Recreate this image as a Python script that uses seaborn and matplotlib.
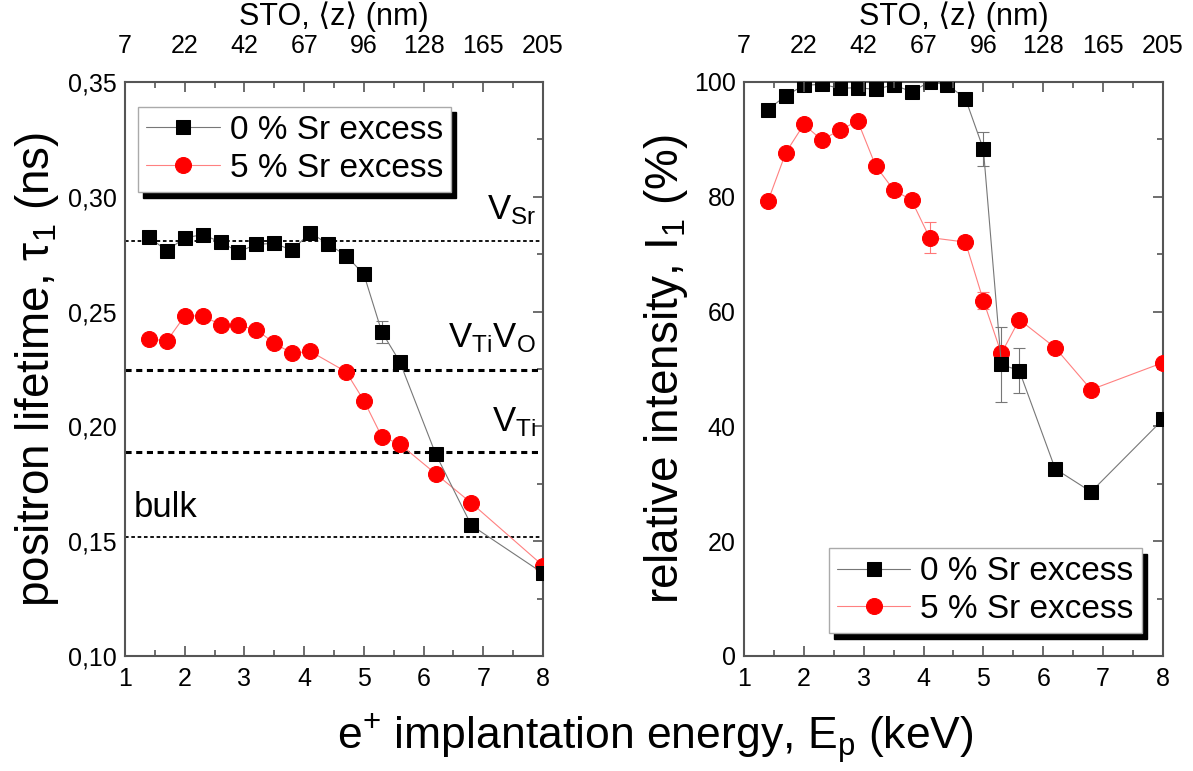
import matplotlib
matplotlib.use("Agg")
import matplotlib.pyplot as plt
from matplotlib.ticker import MultipleLocator, FuncFormatter
import pandas as pd
import seaborn as sns

# implantation energy (keV)
energy_0 = [1.4, 1.7, 2.0, 2.3, 2.6, 2.9, 3.2, 3.5, 3.8, 4.1, 4.4, 4.7, 5.0, 5.3, 5.6, 6.2, 6.8, 8.0]
energy_5 = [1.4, 1.7, 2.0, 2.3, 2.6, 2.9, 3.2, 3.5, 3.8, 4.1, 4.7, 5.0, 5.3, 5.6, 6.2, 6.8, 8.0]

# positron lifetime tau_1 (ns)
tau_0 = [0.2824, 0.2765, 0.2821, 0.2835, 0.2803, 0.2760, 0.2793, 0.2797, 0.2767, 0.2844,
         0.2794, 0.2744, 0.2662, 0.2411, 0.2282, 0.1881, 0.1569, 0.1360]
tau_0_err = [0.001, 0.001, 0.001, 0.001, 0.001, 0.001, 0.001, 0.001, 0.001, 0.001,
             0.001, 0.001, 0.001, 0.0048, 0.001, 0.001, 0.001, 0.001]
tau_5 = [0.2381, 0.2372, 0.2481, 0.2481, 0.2443, 0.2440, 0.2421, 0.2362, 0.2318, 0.2327,
         0.2238, 0.2112, 0.1955, 0.1923, 0.1794, 0.1666, 0.1393]
tau_5_err = [0.0008] * 17

# relative intensity I_1 (%)
int_0 = [95.2, 97.6, 99.4, 99.6, 98.9, 99.0, 98.7, 99.5, 98.3, 100.0,
         99.5, 97.1, 88.3, 50.8, 49.7, 32.6, 28.6, 41.2]
int_0_err = [0.5, 0.5, 0.5, 0.5, 0.5, 0.5, 0.5, 0.5, 0.5, 0.5,
             0.5, 0.5, 2.9, 6.5, 3.9, 0.7, 0.5, 0.5]
int_5 = [79.2, 87.7, 92.6, 89.9, 91.6, 93.2, 85.4, 81.2, 79.4, 72.9,
         72.1, 61.9, 52.7, 58.6, 53.7, 46.4, 51.1]
int_5_err = [0.5, 0.5, 0.5, 0.5, 0.5, 0.5, 0.5, 1.0, 1.0, 2.7,
             1.0, 1.5, 0.8, 0.8, 0.5, 0.5, 0.5]

# reference lifetimes (ns)
ref_names = ["V$_{\\mathrm{Sr}}$", "V$_{\\mathrm{Ti}}$V$_{\\mathrm{O}}$", "V$_{\\mathrm{Ti}}$", "bulk"]
ref_tau = [0.2807, 0.2247, 0.1887, 0.1518]

# top axis: mean depth in STO (nm)
depth_labels = ["7", "22", "42", "67", "96", "128", "165", "205"]
energy_ticks = [1, 2, 3, 4, 5, 6, 7, 8]

labels = ["0 % Sr excess", "5 % Sr excess"]

df0 = pd.DataFrame({"E": energy_0, "tau": tau_0, "I": int_0})
df5 = pd.DataFrame({"E": energy_5, "tau": tau_5, "I": int_5})

sns.set_theme(style="white")
plt.rcParams["font.family"] = ["Liberation Sans", "DejaVu Sans"]
plt.rcParams["mathtext.fontset"] = "custom"
plt.rcParams["mathtext.rm"] = "Liberation Sans"
plt.rcParams["mathtext.it"] = "Liberation Sans"
plt.rcParams["mathtext.bf"] = "Liberation Sans:bold"
plt.rcParams["text.color"] = "black"
plt.rcParams["axes.labelcolor"] = "black"

fig = plt.figure(figsize=(11.93, 7.71), dpi=100)
ax1 = fig.add_axes([0.1048, 0.1492, 0.3504, 0.7445])
ax2 = fig.add_axes([0.6236, 0.1492, 0.3512, 0.7445])

spine_col = "#555555"
black_style = dict(color="black", marker="s", markersize=10, linewidth=0.8,
                   markeredgecolor="black")
red_style = dict(color="red", marker="o", markersize=11.5, linewidth=0.8,
                 markeredgecolor="red")


def draw_panel(ax, ycol, err0, err5):
    ax.errorbar(df0["E"], df0[ycol], yerr=err0, fmt="none", ecolor="#777777",
                elinewidth=0.8, capsize=4, capthick=0.8, zorder=2)
    ax.errorbar(df5["E"], df5[ycol], yerr=err5, fmt="none", ecolor="#ff7777",
                elinewidth=0.8, capsize=4, capthick=0.8, zorder=2)
    sns.lineplot(data=df0, x="E", y=ycol, ax=ax, sort=False, estimator=None,
                 label=labels[0], zorder=4, **black_style)
    sns.lineplot(data=df5, x="E", y=ycol, ax=ax, sort=False, estimator=None,
                 label=labels[1], zorder=3, **red_style)
    # line colours lighter than markers
    lines = ax.get_lines()
    lines[-2].set_color("#777777")
    lines[-2].set_markerfacecolor("black")
    lines[-2].set_markeredgecolor("black")
    lines[-1].set_color("#ff8080")
    lines[-1].set_markerfacecolor("red")
    lines[-1].set_markeredgecolor("red")

    ax.set_xlim(1, 8)
    ax.xaxis.set_major_locator(MultipleLocator(1))
    ax.xaxis.set_minor_locator(MultipleLocator(0.5))
    ax.set_xlabel("")
    for sp in ax.spines.values():
        sp.set_visible(True)
        sp.set_color(spine_col)
        sp.set_linewidth(1.5)
    ax.tick_params(which="both", direction="in", right=True, top=False,
                   colors=spine_col, labelcolor="black", labelsize=18, width=1.2)
    ax.tick_params(which="major", length=7, pad=6)
    ax.tick_params(which="minor", length=4)
    ax.tick_params(axis="x", which="major", pad=8)

    top = ax.twiny()
    top.set_xlim(1, 8)
    top.set_xticks(energy_ticks)
    top.set_xticklabels(depth_labels)
    top.xaxis.set_minor_locator(MultipleLocator(0.5))
    top.tick_params(which="both", direction="in", colors=spine_col,
                    labelcolor="black", labelsize=18, width=1.2)
    top.tick_params(which="major", length=7, pad=17)
    top.tick_params(which="minor", length=4)
    top.set_xlabel("STO, \u27e8z\u27e9 (nm)", fontsize=22, labelpad=7)
    for sp in top.spines.values():
        sp.set_visible(False)
    return top


draw_panel(ax1, "tau", tau_0_err, tau_5_err)
draw_panel(ax2, "I", int_0_err, int_5_err)

# left panel
ax1.set_ylim(0.10, 0.35)
ax1.yaxis.set_major_locator(MultipleLocator(0.05))
ax1.yaxis.set_minor_locator(MultipleLocator(0.025))
ax1.yaxis.set_major_formatter(FuncFormatter(lambda v, p: f"{v:.2f}".replace(".", ",")))
ax1.set_ylabel("positron lifetime, \u03c4$_1$ (ns)", fontsize=33, labelpad=5)

ref_lw = [1.3, 2.2, 2.2, 1.3]
ref_pos = [(7.88, 0.2870, "right"), (7.88, 0.2312, "right"), (7.88, 0.1945, "right"), (1.15, 0.1575, "left")]
for name, val, lw, (tx, ty, ha) in zip(ref_names, ref_tau, ref_lw, ref_pos):
    ax1.axhline(val, color="black", linewidth=lw, linestyle=(0, (2, 1.5)), zorder=1)
    ax1.text(tx, ty, name, fontsize=25, ha=ha, va="bottom")

shadow = {"ox": 3.6, "oy": -4, "color": "black", "alpha": 1}
leg_kw = dict(fontsize=24, frameon=True, fancybox=False, shadow=shadow,
              edgecolor="#aaaaaa", framealpha=1, borderaxespad=0,
              handlelength=2.2, handletextpad=0.3, labelspacing=0.2,
              borderpad=0.25)
leg1 = ax1.legend(loc="upper left", bbox_to_anchor=(0.031, 0.957), **leg_kw)
leg1.get_frame().set_linewidth(1.0)

# right panel
ax2.set_ylim(0, 100)
ax2.yaxis.set_major_locator(MultipleLocator(20))
ax2.yaxis.set_minor_locator(MultipleLocator(10))
ax2.set_ylabel("relative intensity, I$_1$ (%)", fontsize=33, labelpad=3)
leg2 = ax2.legend(loc="lower right", bbox_to_anchor=(0.950, 0.0395), **leg_kw)
leg2.get_frame().set_linewidth(1.0)

fig.text(0.549, 0.043, "e$^{+}$ implantation energy, E$_{\\mathrm{p}}$ (keV)",
         fontsize=32, ha="center", va="center")

fig.savefig("out.png", dpi=100, facecolor="white")
